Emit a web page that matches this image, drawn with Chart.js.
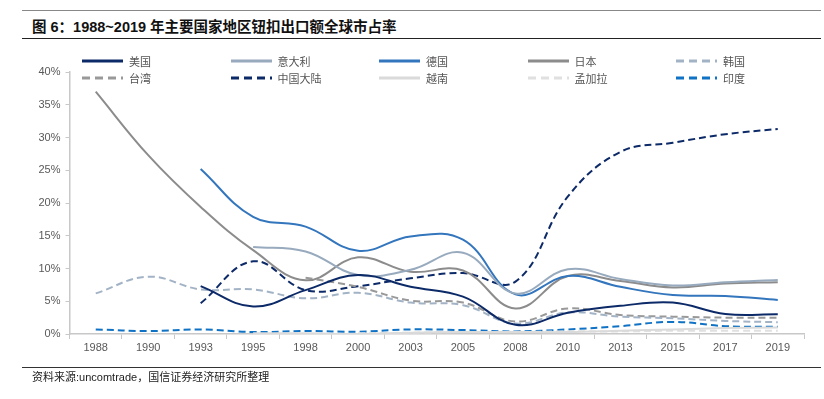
<!DOCTYPE html>
<html>
<head>
<meta charset="utf-8">
<script src="https://cdn.jsdelivr.net/npm/chart.js@4/dist/chart.umd.min.js"></script>
<style>
  body { margin: 0; background: #fff; }
  #page { position: relative; width: 824px; height: 399px; overflow: hidden; font-family: "Liberation Sans", "Noto Sans CJK SC", sans-serif; }
  #chart { position: absolute; left: 0; top: 0; }
  .rule { position: absolute; left: 22px; width: 799px; }
  #title { position: absolute; left: 32px; top: 15px; font-size: 14.5px; font-weight: bold; color: #111; white-space: nowrap; }
  #source { position: absolute; left: 32px; top: 368px; font-size: 11px; color: #222; white-space: nowrap; }
  #legend { position: absolute; left: 82px; top: 53px; display: grid; grid-template-columns: repeat(5, 148.5px); row-gap: 1px; }
  .item { display: flex; align-items: center; height: 16px; font-size: 11px; color: #555; font-family: "Noto Sans CJK SC", sans-serif; }
  .item svg { margin-right: 6px; }
</style>
</head>
<body>
<div id="page">
  <div class="rule" style="top:10px;border-top:1px solid #888;"></div>
  <div id="title">图 6：1988~2019 年主要国家地区钮扣出口额全球市占率</div>
  <div class="rule" style="top:38px;border-top:1.5px solid #222;"></div>
  <canvas id="chart" width="824" height="399"></canvas>
  <div id="legend"></div>
  <div class="rule" style="top:367px;border-top:1px solid #333;"></div>
  <div id="source">资料来源:uncomtrade，国信证券经济研究所整理</div>
</div>
<script>
const years = ['1988', '1990', '1993', '1995', '1998', '2000', '2003', '2005', '2008', '2010', '2013', '2015', '2017', '2019'];

// share of global export value, %
const usa        = [null, null, 7.3, 4.2, 6.7, 9.0, 7.2, 5.7, 1.4, 3.25, 4.3, 4.8, 3.05, 3.0];
const italy      = [null, null, null, 13.3, 12.6, 9.0, 9.8, 12.4, 6.2, 9.9, 8.4, 7.4, 7.9, 8.25];
const germany    = [null, null, 25.2, 17.9, 16.4, 12.7, 14.9, 14.4, 6.05, 8.85, 7.2, 5.95, 5.8, 5.2];
const japan      = [37, 27.3, 19.4, 12.8, 8.2, 11.7, 9.5, 9.7, 3.9, 8.85, 8.1, 7.1, 7.7, 7.9];
const korea      = [6.2, 8.75, 6.8, 6.8, 5.45, 6.3, 4.8, 4.4, 1.6, 3.3, 2.65, 2.4, 2.0, 1.8];
const taiwan     = [null, null, null, null, 8.6, 7.2, 5.1, 4.8, 1.9, 3.9, 2.9, 2.65, 2.5, 2.5];
const china      = [null, null, 4.7, 11.1, 6.7, 7.3, 8.5, 9.3, 8.0, 21, 27.8, 29.2, 30.5, 31.3];
const vietnam    = [null, null, null, 0.1, 0.1, 0.0, 0.2, 0.3, 0.3, 0.3, 0.5, 0.7, 0.9, 1.0];
const bangladesh = [null, null, null, null, null, 0.1, 0.2, 0.3, 0.3, 0.4, 0.4, 0.5, 0.5, 0.5];
const india      = [0.7, 0.45, 0.7, 0.3, 0.45, 0.35, 0.7, 0.6, 0.4, 0.7, 1.2, 1.85, 1.2, 1.1];

const yTicks = [0, 5, 10, 15, 20, 25, 30, 35, 40];

function series(label, data, color, dashed) {
    return {
        label: label,
        data: data,
        borderColor: color,
        backgroundColor: color,
        borderWidth: 2,
        borderDash: dashed ? [7, 4] : [],
        pointRadius: 0,
        tension: 0.4,
        fill: false
    };
}

const datasets = [
    series('美国', usa, '#0d2a68', false),
    series('意大利', italy, '#98aabe', false),
    series('德国', germany, '#3376bd', false),
    series('日本', japan, '#8c8c8c', false),
    series('韩国', korea, '#a3b3c6', true),
    series('台湾', taiwan, '#999999', true),
    series('中国大陆', china, '#0d2a68', true),
    series('越南', vietnam, '#dadada', false),
    series('孟加拉', bangladesh, '#e0e0e0', true),
    series('印度', india, '#1072c4', true)
];

const axisColor = '#c8c8c8';
const tickFont = { family: 'Liberation Sans', size: 11 };

new Chart(document.getElementById('chart'), {
    type: 'line',
    data: { labels: years, datasets: datasets },
    options: {
        responsive: false,
        animation: false,
        layout: { padding: { left: 0, top: 72, right: 20, bottom: 45 } },
        plugins: { legend: { display: false }, tooltip: { enabled: false } },
        scales: {
            x: {
                offset: true,
                grid: { offset: true, drawOnChartArea: false, color: axisColor, tickLength: 5 },
                border: { color: axisColor, width: 1.5 },
                ticks: { color: '#595959', font: tickFont, padding: 2, maxRotation: 0, autoSkip: false },
                afterFit: s => { s.height = 20; }
            },
            y: {
                min: 0,
                max: 40,
                afterBuildTicks: s => { s.ticks = yTicks.map(v => ({ value: v })); },
                grid: { drawOnChartArea: false, color: axisColor, tickLength: 4 },
                border: { color: axisColor, width: 1.5 },
                ticks: { color: '#595959', font: tickFont, padding: 5, callback: v => v + '%' },
                afterFit: s => { s.width = 69.5; }
            }
        }
    }
});

// legend laid out in 5 columns like the original
const legend = document.getElementById('legend');
datasets.forEach(ds => {
    const item = document.createElement('div');
    item.className = 'item';
    const dash = ds.borderDash.length ? 'stroke-dasharray="8,5"' : '';
    item.innerHTML = `<svg width="41" height="4"><line x1="0" y1="2" x2="41" y2="2" stroke="${ds.borderColor}" stroke-width="3" ${dash}/></svg><span>${ds.label}</span>`;
    legend.appendChild(item);
});
</script>
</body>
</html>
